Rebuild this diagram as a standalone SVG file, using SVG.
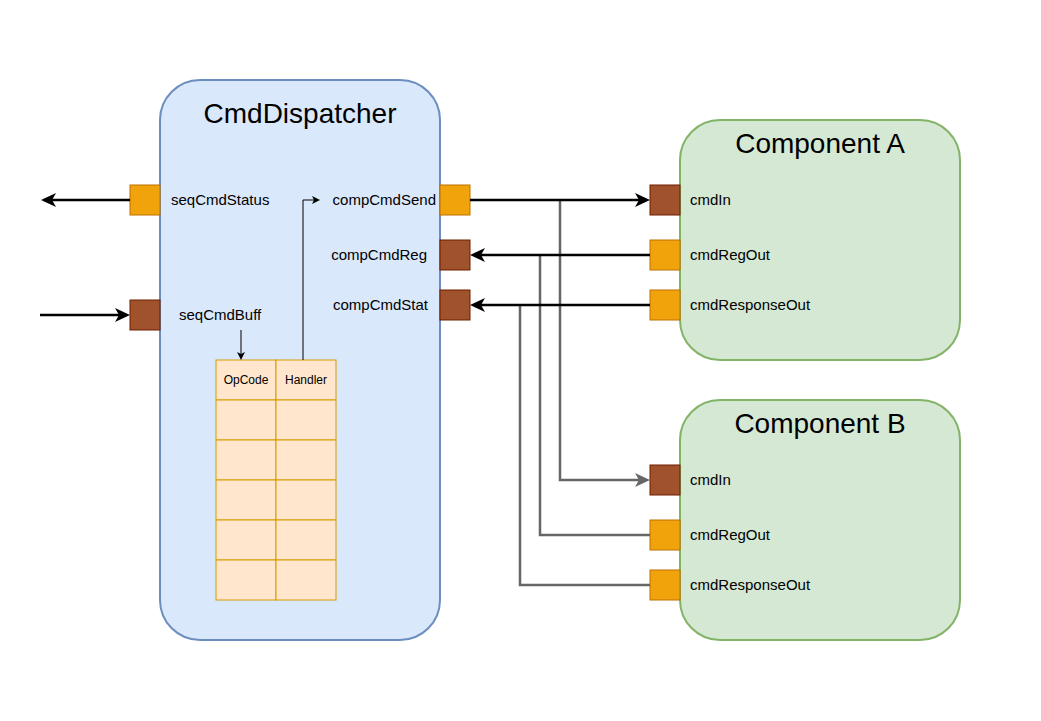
<svg xmlns="http://www.w3.org/2000/svg" width="1041" height="721" viewBox="0 0 1041 721">
<style>
text{font-family:"Liberation Sans",Arial,sans-serif;fill:#000}
.title{font-size:28px;text-anchor:middle}
.lbl{font-size:15px}
.cell{font-size:12px;text-anchor:middle}
.disp{fill:#dae8fc;stroke:#6c8ebf;stroke-width:2}
.comp{fill:#d5e8d4;stroke:#82b366;stroke-width:2}
.po{fill:#f0a30a;stroke:#bd7000;stroke-width:1}
.pb{fill:#a0522d;stroke:#6d1f00;stroke-width:1}
.tb{fill:#ffe6cc;stroke:#d79b00;stroke-width:1}
.blk{fill:none;stroke:#000;stroke-width:2.5}
.gry{fill:none;stroke:#666;stroke-width:2.5}
.thin{fill:none;stroke:#000;stroke-width:1}
</style>
<defs>
<marker id="ab" markerUnits="userSpaceOnUse" markerWidth="16" markerHeight="14" refX="4" refY="7" orient="auto" overflow="visible">
<path d="M0,0 L15,7 L0,14 L4,7 Z" fill="#000"/>
</marker>
<marker id="ag" markerUnits="userSpaceOnUse" markerWidth="16" markerHeight="14" refX="4" refY="7" orient="auto" overflow="visible">
<path d="M0,0 L15,7 L0,14 L4,7 Z" fill="#666"/>
</marker>
<marker id="at" markerUnits="userSpaceOnUse" markerWidth="8" markerHeight="8" refX="2" refY="4" orient="auto" overflow="visible">
<path d="M0,0 L8,4 L0,8 L2,4 Z" fill="#000"/>
</marker>
</defs>
<rect width="1041" height="721" fill="#fff"/>

<g id="CmdDispatcher">
<rect class="disp" x="160" y="80" width="280" height="560" rx="40" ry="40"/>
<text class="title" x="300" y="123">CmdDispatcher</text>
<rect class="po" x="130" y="185" width="30" height="30"/>
<text class="lbl" x="171" y="205">seqCmdStatus</text>
<rect class="pb" x="130" y="300" width="30" height="30"/>
<text class="lbl" x="179" y="320">seqCmdBuff</text>
<rect class="po" x="440" y="185" width="30" height="30"/>
<text class="lbl" x="436" y="205" text-anchor="end">compCmdSend</text>
<rect class="pb" x="440" y="240" width="30" height="30"/>
<text class="lbl" x="427" y="260" text-anchor="end">compCmdReg</text>
<rect class="pb" x="440" y="290" width="30" height="30"/>
<text class="lbl" x="428" y="310" text-anchor="end">compCmdStat</text>
</g>

<g id="table">
<rect class="tb" x="216" y="360" width="60" height="40"/>
<rect class="tb" x="276" y="360" width="60" height="40"/>
<rect class="tb" x="216" y="400" width="60" height="40"/>
<rect class="tb" x="276" y="400" width="60" height="40"/>
<rect class="tb" x="216" y="440" width="60" height="40"/>
<rect class="tb" x="276" y="440" width="60" height="40"/>
<rect class="tb" x="216" y="480" width="60" height="40"/>
<rect class="tb" x="276" y="480" width="60" height="40"/>
<rect class="tb" x="216" y="520" width="60" height="40"/>
<rect class="tb" x="276" y="520" width="60" height="40"/>
<rect class="tb" x="216" y="560" width="60" height="40"/>
<rect class="tb" x="276" y="560" width="60" height="40"/>
<text class="cell" x="246" y="384">OpCode</text>
<text class="cell" x="306" y="384">Handler</text>
</g>

<g id="ComponentA">
<rect class="comp" x="680" y="120" width="280" height="240" rx="40" ry="40"/>
<text class="title" x="820" y="153">Component A</text>
<rect class="pb" x="650" y="185" width="30" height="30"/>
<text class="lbl" x="690" y="205">cmdIn</text>
<rect class="po" x="650" y="240" width="30" height="30"/>
<text class="lbl" x="690" y="260">cmdRegOut</text>
<rect class="po" x="650" y="290" width="30" height="30"/>
<text class="lbl" x="690" y="310">cmdResponseOut</text>
</g>

<g id="ComponentB">
<rect class="comp" x="680" y="400" width="280" height="240" rx="40" ry="40"/>
<text class="title" x="820" y="433">Component B</text>
<rect class="pb" x="650" y="465" width="30" height="30"/>
<text class="lbl" x="690" y="485">cmdIn</text>
<rect class="po" x="650" y="520" width="30" height="30"/>
<text class="lbl" x="690" y="540">cmdRegOut</text>
<rect class="po" x="650" y="570" width="30" height="30"/>
<text class="lbl" x="690" y="590">cmdResponseOut</text>
</g>

<g id="connectors">
<path class="gry" d="M560,200 V480 H639" marker-end="url(#ag)"/>
<path class="gry" d="M540,255 V535 H650"/>
<path class="gry" d="M520,305 V585 H650"/>
<path class="blk" d="M130,200 H52" marker-end="url(#ab)"/>
<path class="blk" d="M40,315 H119" marker-end="url(#ab)"/>
<path class="blk" d="M470,200 H639" marker-end="url(#ab)"/>
<path class="blk" d="M650,255 H481" marker-end="url(#ab)"/>
<path class="blk" d="M650,305 H481" marker-end="url(#ab)"/>
<path class="thin" d="M241,330 V354" marker-end="url(#at)"/>
<path class="thin" d="M303,360 V200 H314" marker-end="url(#at)"/>
</g>
</svg>
